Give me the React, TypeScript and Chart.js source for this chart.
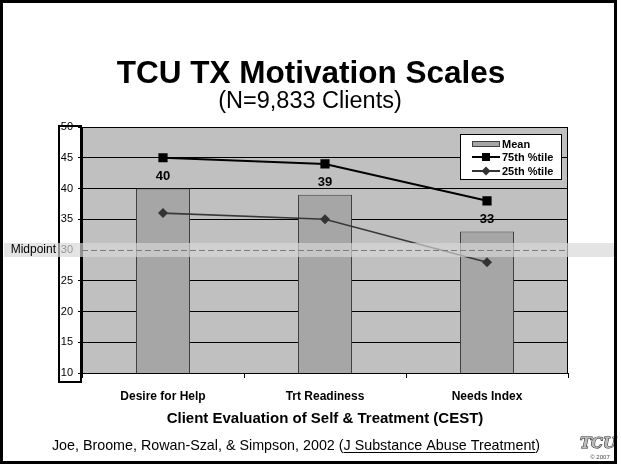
import React, { useEffect, useRef } from "react";
import { Chart, registerables } from "chart.js";

Chart.register(...registerables);

const categories = ["Desire for Help", "Trt Readiness", "Needs Index"];
const meanValues = [40, 39, 33];
const p75Values = [45, 44, 38];
const p25Values = [36, 35, 28];
const seriesNames = ["Mean", "75th %tile", "25th %tile"];
const yMin = 10;
const yMax = 50;
const yStep = 5;
const midpointValue = 30;
const titleText = "TCU TX Motivation Scales";
const subtitleText = "(N=9,833 Clients)";
const xAxisTitle = "Client Evaluation of Self & Treatment (CEST)";
const footerPre = "Joe, Broome, Rowan-Szal, & Simpson, 2002 (";
const footerUnder = "J Substance Abuse Treatment";
const footerPost = ")";

const NARROW = "'Liberation Sans Narrow', 'Liberation Sans', Arial, sans-serif";
const SANS = "'Liberation Sans', Arial, sans-serif";

const decorPlugin = {
  id: "decor",
  beforeDraw(chart: any) {
    const { ctx, chartArea: a, width, height } = chart;
    ctx.save();
    ctx.fillStyle = "#ffffff";
    ctx.fillRect(0, 0, width, height);
    ctx.fillStyle = "#c0c0c0";
    ctx.fillRect(a.left, a.top, a.right - a.left, a.bottom - a.top);
    ctx.restore();
  },
  afterDatasetsDraw(chart: any) {
    const { ctx } = chart;
    const meta = chart.getDatasetMeta(2);
    ctx.save();
    ctx.font = `bold 13px ${NARROW}`;
    ctx.fillStyle = "#000";
    ctx.textAlign = "center";
    ctx.textBaseline = "middle";
    meta.data.forEach((bar: any, i: number) => {
      ctx.fillText(String(meanValues[i]), bar.x, bar.y - 12);
    });
    ctx.restore();
  },
  afterDraw(chart: any) {
    const { ctx, chartArea: a, width } = chart;
    const y = chart.scales.y;
    ctx.save();
    // plot border
    ctx.strokeStyle = "#000";
    ctx.lineWidth = 1;
    ctx.strokeRect(a.left + 0.5, a.top + 0.5, a.right - a.left - 1, a.bottom - a.top);
    // y-axis label box
    ctx.lineWidth = 2;
    ctx.strokeRect(59, a.top - 1, a.left - 60, a.bottom - a.top + 10);
    // midpoint band
    const my = y.getPixelForValue(midpointValue);
    ctx.fillStyle = "rgba(215,215,215,0.68)";
    ctx.fillRect(4, my - 7, width - 9, 14);
    ctx.strokeStyle = "#7a7a7a";
    ctx.lineWidth = 1;
    ctx.setLineDash([6, 3]);
    ctx.beginPath();
    ctx.moveTo(a.left, Math.round(my) + 0.5);
    ctx.lineTo(a.right, Math.round(my) + 0.5);
    ctx.stroke();
    ctx.setLineDash([]);
    ctx.fillStyle = "#000";
    ctx.font = `12px ${SANS}`;
    ctx.textAlign = "right";
    ctx.textBaseline = "middle";
    ctx.fillText("Midpoint", 56, my);
    // legend
    const lx = 460, ly = 134, lw = 101, lh = 45;
    ctx.fillStyle = "#fff";
    ctx.fillRect(lx, ly, lw, lh);
    ctx.strokeStyle = "#000";
    ctx.lineWidth = 1;
    ctx.strokeRect(lx + 0.5, ly + 0.5, lw, lh);
    const rows = [ly + 10, ly + 23, ly + 37];
    // Mean
    ctx.fillStyle = "#a6a6a6";
    ctx.fillRect(472, rows[0] - 3, 28, 6);
    ctx.strokeStyle = "#404040";
    ctx.strokeRect(472.5, rows[0] - 2.5, 27, 5);
    // 75th
    ctx.strokeStyle = "#000";
    ctx.lineWidth = 2;
    ctx.beginPath();
    ctx.moveTo(472, rows[1]);
    ctx.lineTo(500, rows[1]);
    ctx.stroke();
    ctx.fillStyle = "#000";
    ctx.fillRect(482, rows[1] - 4, 8, 8);
    // 25th
    ctx.strokeStyle = "#333";
    ctx.beginPath();
    ctx.moveTo(472, rows[2]);
    ctx.lineTo(500, rows[2]);
    ctx.stroke();
    ctx.fillStyle = "#333";
    ctx.beginPath();
    ctx.moveTo(486, rows[2] - 4.5);
    ctx.lineTo(490.5, rows[2]);
    ctx.lineTo(486, rows[2] + 4.5);
    ctx.lineTo(481.5, rows[2]);
    ctx.closePath();
    ctx.fill();
    ctx.fillStyle = "#000";
    ctx.font = `bold 11px ${NARROW}`;
    ctx.textAlign = "left";
    ctx.textBaseline = "middle";
    seriesNames.forEach((n, i) => ctx.fillText(n, 502, rows[i] + 0.5));
    // titles
    ctx.textAlign = "center";
    ctx.textBaseline = "alphabetic";
    ctx.font = `bold 31.5px ${SANS}`;
    ctx.fillText(titleText, 311, 83);
    ctx.font = `23.5px ${SANS}`;
    ctx.fillText(subtitleText, 310, 108);
    ctx.font = `bold 15px ${NARROW}`;
    ctx.textBaseline = "middle";
    ctx.fillText(xAxisTitle, (a.left + a.right) / 2, 419);
    // footer
    ctx.font = `14.3px ${SANS}`;
    ctx.textAlign = "left";
    ctx.textBaseline = "alphabetic";
    const w1 = ctx.measureText(footerPre).width;
    const w2 = ctx.measureText(footerUnder).width;
    const w3 = ctx.measureText(footerPost).width;
    const fx = 296 - (w1 + w2 + w3) / 2;
    const fy = 450;
    ctx.fillText(footerPre, fx, fy);
    ctx.fillText(footerUnder, fx + w1, fy);
    ctx.fillText(footerPost, fx + w1 + w2, fy);
    ctx.fillRect(fx + w1, fy + 2, w2, 1);
    // logo
    ctx.textAlign = "center";
    ctx.font = `bold italic 15px 'DejaVu Serif', serif`;
    ctx.fillStyle = "#bbb";
    ctx.strokeStyle = "#222";
    ctx.lineWidth = 1;
    ctx.strokeText("TCU", 598, 448);
    ctx.fillText("TCU", 598, 448);
    ctx.fillStyle = "#444";
    ctx.font = `6px ${SANS}`;
    ctx.fillText("\u00a9 2007", 600, 459);
    // outer border
    ctx.strokeStyle = "#000";
    ctx.lineWidth = 3;
    ctx.strokeRect(1.5, 1.5, 614, 461);
    ctx.restore();
  },
};

export default function App() {
  const ref = useRef<HTMLCanvasElement | null>(null);
  useEffect(() => {
    document.body.style.margin = "0";
    const canvas = ref.current!;
    const chart = new Chart(canvas, {
      type: "bar",
      data: {
        labels: categories,
        datasets: [
          {
            type: "line",
            label: seriesNames[1],
            data: p75Values,
            borderColor: "#000",
            backgroundColor: "#000",
            borderWidth: 2,
            pointStyle: "rect",
            pointRadius: 6.5,
            pointBorderWidth: 0,
            order: 1,
          } as any,
          {
            type: "line",
            label: seriesNames[2],
            data: p25Values,
            borderColor: "#383838",
            backgroundColor: "#333",
            borderWidth: 1.6,
            pointStyle: "rectRot",
            pointRadius: 5,
            pointBorderWidth: 0,
            order: 2,
          } as any,
          {
            type: "bar",
            label: seriesNames[0],
            data: meanValues,
            backgroundColor: "#a6a6a6",
            borderColor: "#404040",
            borderWidth: 1,
            borderSkipped: false,
            barPercentage: 1,
            categoryPercentage: 1 / 3,
            order: 3,
          },
        ],
      },
      options: {
        responsive: false,
        animation: false,
        devicePixelRatio: 1,
        layout: { padding: { left: 0, right: 53, top: 127, bottom: 63 } },
        plugins: { legend: { display: false }, tooltip: { enabled: false }, title: { display: false } },
        scales: {
          x: {
            afterFit: (s: any) => { s.height = 30; },
            grid: { display: true, drawOnChartArea: false, drawTicks: true, tickLength: 5, color: "#000", offset: true },
            border: { display: true, color: "#000", width: 1 },
            ticks: { color: "#000", font: { family: NARROW, size: 12, weight: "bold" }, padding: 11 },
          },
          y: {
            min: yMin,
            max: yMax,
            afterFit: (s: any) => { s.width = 82; },
            ticks: { stepSize: yStep, color: "#000", font: { family: SANS, size: 11 }, padding: 5 },
            grid: {
              color: (c: any) => (c.tick && c.tick.value === midpointValue ? "rgba(0,0,0,0)" : "#000"),
              tickLength: 4,
              drawTicks: true,
            },
            border: { display: true, color: "#000", width: 1 },
          },
        },
      },
      plugins: [decorPlugin],
    });
    return () => chart.destroy();
  }, []);
  return (
    <div style={{ position: "absolute", left: 0, top: 0, width: 621, height: 466 }}>
      <canvas ref={ref} width={621} height={466} />
    </div>
  );
}
